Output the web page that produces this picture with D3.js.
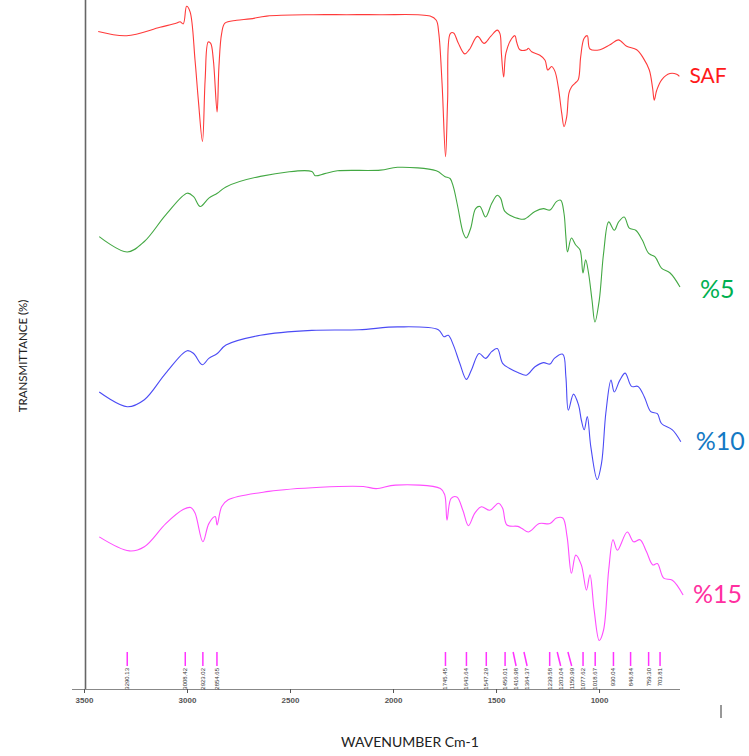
<!DOCTYPE html>
<html>
<head>
<meta charset="utf-8">
<script src="https://cdn.jsdelivr.net/npm/d3@7"></script>
<style>
  html, body { margin: 0; padding: 0; background: #fff; }
  svg { display: block; }
</style>
</head>
<body>
<svg id="chart" width="749" height="756"></svg>
<script>
// FTIR spectra: [wavenumber (cm-1), stacked transmittance]
const saf = [
  [3431,95.5],[3293,94.9],[3131,96.1],[3050,96.7],[3034,96.9],[3018,96.6],[3002,99.1],[2985,98.3],
  [2961,91.4],[2945,85.7],[2925,79.8],[2912,88.6],[2897,94.0],[2885,93.8],[2872,91.4],[2854,84.0],
  [2845,90.5],[2832,95.2],[2816,96.7],[2759,97.1],[2694,97.3],[2613,97.7],[2388,97.9],[2225,97.9],
  [2063,97.9],[1820,97.7],[1790,97.1],[1778,95.3],[1762,88.1],[1745,77.6],[1735,85.7],[1722,95.2],
  [1706,95.3],[1684,93.9],[1652,92.3],[1630,92.9],[1590,94.8],[1558,93.8],[1526,94.8],[1494,95.7],
  [1481,95.2],[1474,92.4],[1463,89.0],[1452,92.4],[1424,94.5],[1408,94.9],[1400,94.0],[1384,92.9],
  [1351,92.9],[1343,93.1],[1327,92.6],[1287,92.1],[1262,91.4],[1249,90.0],[1230,90.5],[1214,89.8],
  [1198,87.6],[1181,83.8],[1170,81.9],[1157,83.3],[1146,86.7],[1133,87.6],[1117,88.1],[1101,88.6],
  [1089,91.9],[1073,94.5],[1057,94.9],[1044,93.0],[995,92.9],[947,93.6],[906,94.3],[866,93.4],
  [817,92.9],[785,91.7],[756,90.0],[740,87.4],[732,85.7],[720,87.1],[696,88.6],[656,89.5],
  [623,89.4],[610,89.1]
];
const pct5 = [
  [3426,66.2],[3290,64.0],[3207,65.5],[3103,69.3],[2999,72.4],[2968,71.9],[2936,70.5],[2894,71.7],
  [2853,72.4],[2811,73.3],[2644,74.8],[2394,75.5],[2378,74.9],[2332,75.2],[2270,75.6],[2061,75.7],
  [1978,76.1],[1790,75.6],[1749,74.8],[1723,74.5],[1707,73.3],[1686,70.5],[1659,66.7],[1644,66.0],
  [1623,67.4],[1599,70.2],[1578,70.5],[1551,69.0],[1520,71.0],[1494,72.1],[1478,71.7],[1457,69.8],
  [1415,69.0],[1394,68.8],[1363,68.7],[1311,69.8],[1270,70.2],[1238,70.0],[1207,71.2],[1186,71.4],
  [1170,69.5],[1161,66.2],[1153,64.0],[1134,66.0],[1113,65.0],[1092,64.3],[1078,61.0],[1065,62.9],
  [1051,61.0],[1034,57.1],[1020,54.0],[999,57.1],[978,63.8],[953,68.3],[926,67.1],[905,68.3],
  [878,69.0],[853,67.4],[822,67.1],[790,65.7],[759,63.8],[728,63.3],[697,61.7],[655,61.0],[607,59.0]
];
const pct10 = [
  [3426,44.0],[3290,41.9],[3207,42.9],[3103,46.7],[2999,49.9],[2968,49.5],[2926,47.9],[2894,48.8],
  [2853,49.5],[2811,50.7],[2644,52.1],[2394,52.8],[2165,52.9],[1978,53.3],[1780,52.9],[1753,51.9],
  [1732,52.1],[1707,50.7],[1676,48.1],[1644,45.8],[1620,47.1],[1582,49.5],[1551,48.8],[1520,49.8],
  [1494,50.2],[1468,48.1],[1436,47.4],[1394,46.8],[1353,46.4],[1311,47.6],[1270,48.2],[1238,48.0],
  [1217,48.8],[1176,49.4],[1161,46.2],[1149,41.4],[1124,43.7],[1099,42.1],[1086,40.0],[1072,38.6],
  [1057,40.5],[1040,36.2],[1009,31.5],[988,33.8],[967,41.0],[942,45.7],[926,44.0],[899,45.7],
  [873,46.7],[842,44.8],[811,44.8],[780,43.3],[749,41.2],[717,40.9],[697,39.5],[644,38.6],[603,36.9]
];
const pct15 = [
  [3426,23.3],[3280,21.3],[3207,21.9],[3103,25.2],[3019,27.2],[2982,27.5],[2961,26.7],[2923,22.6],
  [2894,25.2],[2863,26.2],[2854,25.0],[2832,27.6],[2800,28.6],[2603,29.8],[2353,30.4],[2144,30.5],
  [2082,30.2],[1988,30.7],[1770,30.2],[1749,29.3],[1738,25.7],[1718,28.8],[1690,29.0],[1661,27.1],
  [1634,24.9],[1603,26.7],[1571,27.6],[1530,27.1],[1488,28.1],[1468,27.4],[1447,25.0],[1394,24.8],
  [1374,24.5],[1342,24.0],[1290,25.2],[1238,25.2],[1207,26.0],[1176,26.0],[1155,23.3],[1134,18.1],
  [1113,20.7],[1086,19.3],[1061,15.7],[1044,17.9],[1024,12.9],[999,8.5],[978,10.0],[953,18.6],
  [932,22.9],[911,21.4],[863,24.0],[832,22.6],[801,22.9],[770,21.2],[739,19.3],[717,19.5],
  [686,17.4],[644,17.1],[592,15.0]
];

const seriesNames = ["SAF", "%5", "%10", "%15"];
const seriesData = [saf, pct5, pct10, pct15];
const lineColors = ["#ff3a3a", "#43a843", "#4b4bf5", "#ff4dff"];
const labelColors = ["#ff1a1a", "#00b050", "#1479c4", "#ff2fa0"];

// Assigned band positions (cm-1)
const peaks = [3290.13, 3008.42, 2923.02, 2854.65, 1745.45, 1643.64, 1547.29, 1456.01, 1416.98,
  1364.37, 1239.58, 1203.04, 1150.99, 1077.62, 1018.67, 930.04, 846.84, 759.30, 703.81];

const xTicks = [3500, 3000, 2500, 2000, 1500, 1000];

const svg = d3.select("#chart");

const x = d3.scaleLinear().domain([3500, 607]).range([84, 680]);
const y = d3.scaleLinear().domain([0, 100]).range([700, 0]);
const axisY = 689;

// left frame line
svg.append("line")
  .attr("x1", 85.5).attr("x2", 85.5).attr("y1", 0).attr("y2", axisY)
  .attr("stroke", "#666").attr("stroke-width", 1.6);

// bottom wavenumber axis
const axis = d3.axisBottom(x).tickValues(xTicks).tickFormat(d3.format("d"))
  .tickSize(4).tickSizeOuter(0).tickPadding(4);
const gAxis = svg.append("g").attr("transform", `translate(0,${axisY})`).call(axis);
gAxis.select(".domain").attr("stroke", "#888").attr("d", `M72,0.5H680`);
gAxis.selectAll(".tick line").attr("stroke", "#555");
gAxis.selectAll(".tick text")
  .attr("font-family", "Liberation Sans, Arial, sans-serif")
  .attr("font-size", 8).attr("font-weight", "bold").attr("fill", "#555");

// spectra
const line = d3.line()
  .x(d => x(d[0])).y(d => y(d[1]))
  .curve(d3.curveCatmullRom.alpha(0.5));

svg.append("g").selectAll("path")
  .data(seriesData)
  .join("path")
  .attr("d", line)
  .attr("fill", "none")
  .attr("stroke", (d, i) => lineColors[i])
  .attr("stroke-width", 1.1)
  .attr("stroke-linejoin", "round");

// series names next to the right end of each trace
const labelPos = [
  { dx: 10, dy: 7 },
  { dx: 20, dy: 11 },
  { dx: 15, dy: 8 },
  { dx: 10, dy: 8 }
];
svg.append("g").selectAll("text")
  .data(seriesNames)
  .join("text")
  .attr("x", (d, i) => x(seriesData[i][seriesData[i].length - 1][0]) + labelPos[i].dx)
  .attr("y", (d, i) => y(seriesData[i][seriesData[i].length - 1][1]) + labelPos[i].dy)
  .attr("font-family", "Lato, 'Open Sans', sans-serif")
  .attr("font-size", (d, i) => i === 0 ? 21 : 25)
  .attr("fill", (d, i) => labelColors[i])
  .text(d => d);

// band markers, labels spread so they do not collide
const peakX = peaks.map(p => x(p));
const labX = [];
peakX.forEach((px, i) => {
  labX.push(i === 0 ? px : Math.max(px, labX[i - 1] + 11));
});
const gPk = svg.append("g");
gPk.selectAll("line")
  .data(peaks)
  .join("line")
  .attr("x1", (d, i) => peakX[i]).attr("y1", 652)
  .attr("x2", (d, i) => labX[i]).attr("y2", 666)
  .attr("stroke", "#ff33ff").attr("stroke-width", 1.5);
gPk.selectAll("text")
  .data(peaks)
  .join("text")
  .attr("transform", (d, i) => `translate(${labX[i] + 2},668) rotate(-90)`)
  .attr("text-anchor", "end")
  .attr("font-family", "Liberation Sans Narrow, Liberation Sans, Arial, sans-serif")
  .attr("font-size", 6)
  .attr("fill", "#333")
  .text(d => d.toFixed(2));

// small mark at lower right
svg.append("line")
  .attr("x1", 721).attr("x2", 721).attr("y1", 705).attr("y2", 718)
  .attr("stroke", "#333").attr("stroke-width", 1);

// axis titles
svg.append("text")
  .attr("x", 410).attr("y", 747)
  .attr("text-anchor", "middle")
  .attr("font-family", "Lato, 'Open Sans', sans-serif")
  .attr("font-size", 14).attr("fill", "#222")
  .text("WAVENUMBER Cm-1");

svg.append("text")
  .attr("transform", "translate(27,356) rotate(-90)")
  .attr("text-anchor", "middle")
  .attr("font-family", "Lato, 'Open Sans', sans-serif")
  .attr("font-size", 11.5).attr("fill", "#222")
  .text("TRANSMITTANCE (%)");
</script>
</body>
</html>
